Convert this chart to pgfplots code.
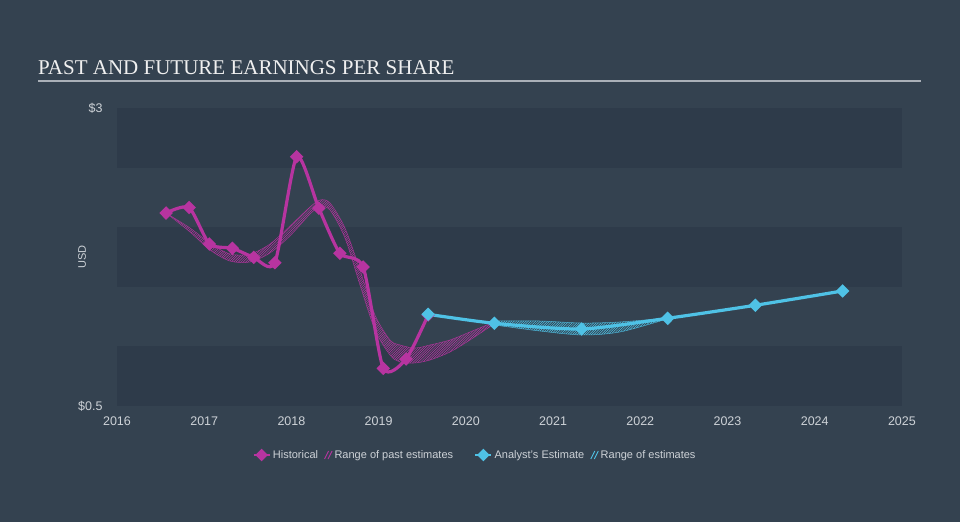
\documentclass[border=0pt]{standalone}
\usepackage{pgfplots}
\pgfplotsset{compat=1.18}
\usepgfplotslibrary{fillbetween}
\usetikzlibrary{patterns}
\usepackage{fontspec}
\setmainfont{Liberation Sans}
\newfontfamily\titlefont{Liberation Serif}
\definecolor{bgc}{RGB}{52,66,80}
\definecolor{bandc}{RGB}{46,59,74}
\definecolor{histc}{RGB}{183,52,160}
\definecolor{estc}{RGB}{79,194,230}
\definecolor{tickc}{RGB}{205,210,215}
\definecolor{rulec}{RGB}{170,176,184}
\pgfdeclarepatternformonly{finehatch}{\pgfqpoint{-1pt}{-1pt}}{\pgfqpoint{3pt}{3pt}}{\pgfqpoint{2.4pt}{2.4pt}}{%
  \pgfsetlinewidth{0.5pt}%
  \pgfpathmoveto{\pgfqpoint{-0.1pt}{-0.1pt}}%
  \pgfpathlineto{\pgfqpoint{2.5pt}{2.5pt}}%
  \pgfusepath{stroke}}
\begin{document}
\begin{tikzpicture}
\fill[bgc] (0,0) rectangle (960bp,522bp);
\node[anchor=base west, text=white!94!black, font=\titlefont\fontsize{21bp}{24bp}\selectfont, inner sep=0pt] at (38bp,447bp) {PAST AND FUTURE EARNINGS PER SHARE};
\draw[rulec, line width=1.5bp] (38bp,441bp) -- (921bp,441bp);
\begin{axis}[at={(117bp,116bp)}, anchor=south west, scale only axis,
  width=785bp, height=298bp,
  xmin=2016, xmax=2025, ymin=0.5, ymax=3,
  fill between/on layer=main,
  axis x line*=bottom, axis y line*=left,
  x axis line style={rulec, line width=1bp, -},
  y axis line style={draw=none},
  xtick={2016,...,2025},
  xticklabels={2016,2017,2018,2019,2020,2021,2022,2023,2024,2025},
  ytick={0.5,3}, yticklabels={\$0.5,\$3},
  tick align=outside, major tick length=7bp,
  xtick style={rulec, line width=0.8bp},
  ytick style={draw=none},
  ticklabel style={text=tickc, font=\fontsize{12.5bp}{14bp}\selectfont},
  yticklabel style={xshift=-4bp},
  ylabel={USD},
  ylabel style={at={(axis description cs:-0.0446,0.5)}, anchor=center, text=tickc, font=\fontsize{11bp}{13bp}\selectfont},
  legend columns=4,
  legend cell align=left,
  legend style={at={(axis description cs:0.456,-0.1644)}, anchor=center, draw=none, fill=none,
    text=tickc, font=\fontsize{11bp}{13bp}\selectfont,
    /tikz/column 2/.style={column sep=4bp},
    /tikz/column 4/.style={column sep=19bp},
    /tikz/column 6/.style={column sep=4bp}},
]
% background bands
\fill[bandc] (axis cs:2016,0.5) rectangle (axis cs:2025,1.0);
\fill[bandc] (axis cs:2016,1.5) rectangle (axis cs:2025,2.0);
\fill[bandc] (axis cs:2016,2.5) rectangle (axis cs:2025,3.0);

\addlegendimage{color=histc, line width=2.5bp, mark=diamond*, mark size=4.5bp, mark options={xscale=1.33, solid},
  legend image code/.code={\draw[mark repeat=2, mark phase=2] plot coordinates {(0bp,0bp) (8bp,0bp) (16bp,0bp)};}}
\addlegendentry{Historical}
\addlegendimage{legend image code/.code={\draw[histc, line width=0.9bp] (0bp,-4bp) -- (4bp,4bp) (3.5bp,-4bp) -- (7.5bp,4bp);}}
\addlegendentry{Range of past estimates}
\addlegendimage{color=estc, line width=2.5bp, mark=diamond*, mark size=4.5bp, mark options={xscale=1.33, solid},
  legend image code/.code={\draw[mark repeat=2, mark phase=2] plot coordinates {(0bp,0bp) (8bp,0bp) (16bp,0bp)};}}
\addlegendentry{Analyst's Estimate}
\addlegendimage{legend image code/.code={\draw[estc, line width=0.9bp] (0bp,-4bp) -- (4bp,4bp) (3.5bp,-4bp) -- (7.5bp,4bp);}}
\addlegendentry{Range of estimates}

% range of past estimates
\addplot[name path=pu, color=histc, line width=0.5bp, smooth, forget plot, opacity=0.8] coordinates {
(2016.562,2.119) (2016.837,1.993) (2017.066,1.867) (2017.296,1.775) (2017.525,1.775)
(2017.754,1.859) (2017.983,2.010) (2018.213,2.169) (2018.327,2.228) (2018.442,2.203)
(2018.614,1.993) (2018.786,1.641) (2018.958,1.263) (2019.130,1.054) (2019.245,1.012)
(2019.417,0.987) (2019.589,1.012) (2019.818,1.054) (2020.047,1.121) (2020.322,1.205)};
\addplot[name path=pl, color=histc, line width=0.5bp, smooth, forget plot, opacity=0.8] coordinates {
(2016.562,2.119) (2016.837,1.960) (2017.066,1.809) (2017.296,1.716) (2017.525,1.708)
(2017.754,1.784) (2017.983,1.926) (2018.213,2.111) (2018.327,2.169) (2018.442,2.144)
(2018.614,1.909) (2018.786,1.515) (2018.958,1.138) (2019.130,0.928) (2019.245,0.869)
(2019.417,0.861) (2019.589,0.886) (2019.818,0.953) (2020.047,1.054) (2020.322,1.188)};
\addplot[draw=none, pattern=finehatch, pattern color=histc, forget plot] fill between[of=pu and pl];

% range of estimates
\addplot[name path=eu, color=estc, line width=0.5bp, smooth, forget plot, opacity=0.8] coordinates {
(2020.322,1.213) (2020.850,1.213) (2021.331,1.196) (2021.767,1.205) (2022.306,1.238)};
\addplot[name path=el, color=estc, line width=0.5bp, smooth, forget plot, opacity=0.8] coordinates {
(2020.322,1.180) (2020.850,1.129) (2021.331,1.096) (2021.767,1.121) (2022.306,1.230)};
\addplot[draw=none, pattern=finehatch, pattern color=estc, forget plot] fill between[of=eu and el];

% historical
\addplot[color=histc, line width=3.2bp, smooth, tension=0.4, mark=diamond*, mark size=4.5bp, mark options={xscale=1.33, solid}, forget plot] coordinates {
(2016.562,2.119) (2016.826,2.165) (2017.060,1.859) (2017.323,1.823) (2017.567,1.747)
(2017.810,1.702) (2018.060,2.591) (2018.314,2.159) (2018.555,1.781) (2018.822,1.666)
(2019.053,0.816) (2019.314,0.894) (2019.567,1.263)};

% analyst estimate
\addplot[color=estc, line width=3.2bp, smooth, tension=0.4, mark=diamond*, mark size=4.5bp, mark options={xscale=1.33, solid}, forget plot] coordinates {
(2019.567,1.269) (2020.326,1.194) (2021.328,1.146) (2022.314,1.236) (2023.318,1.345) (2024.320,1.465)};
\end{axis}
\pgfresetboundingbox
\useasboundingbox (0,0) rectangle (960bp,522bp);
\end{tikzpicture}
\end{document}
